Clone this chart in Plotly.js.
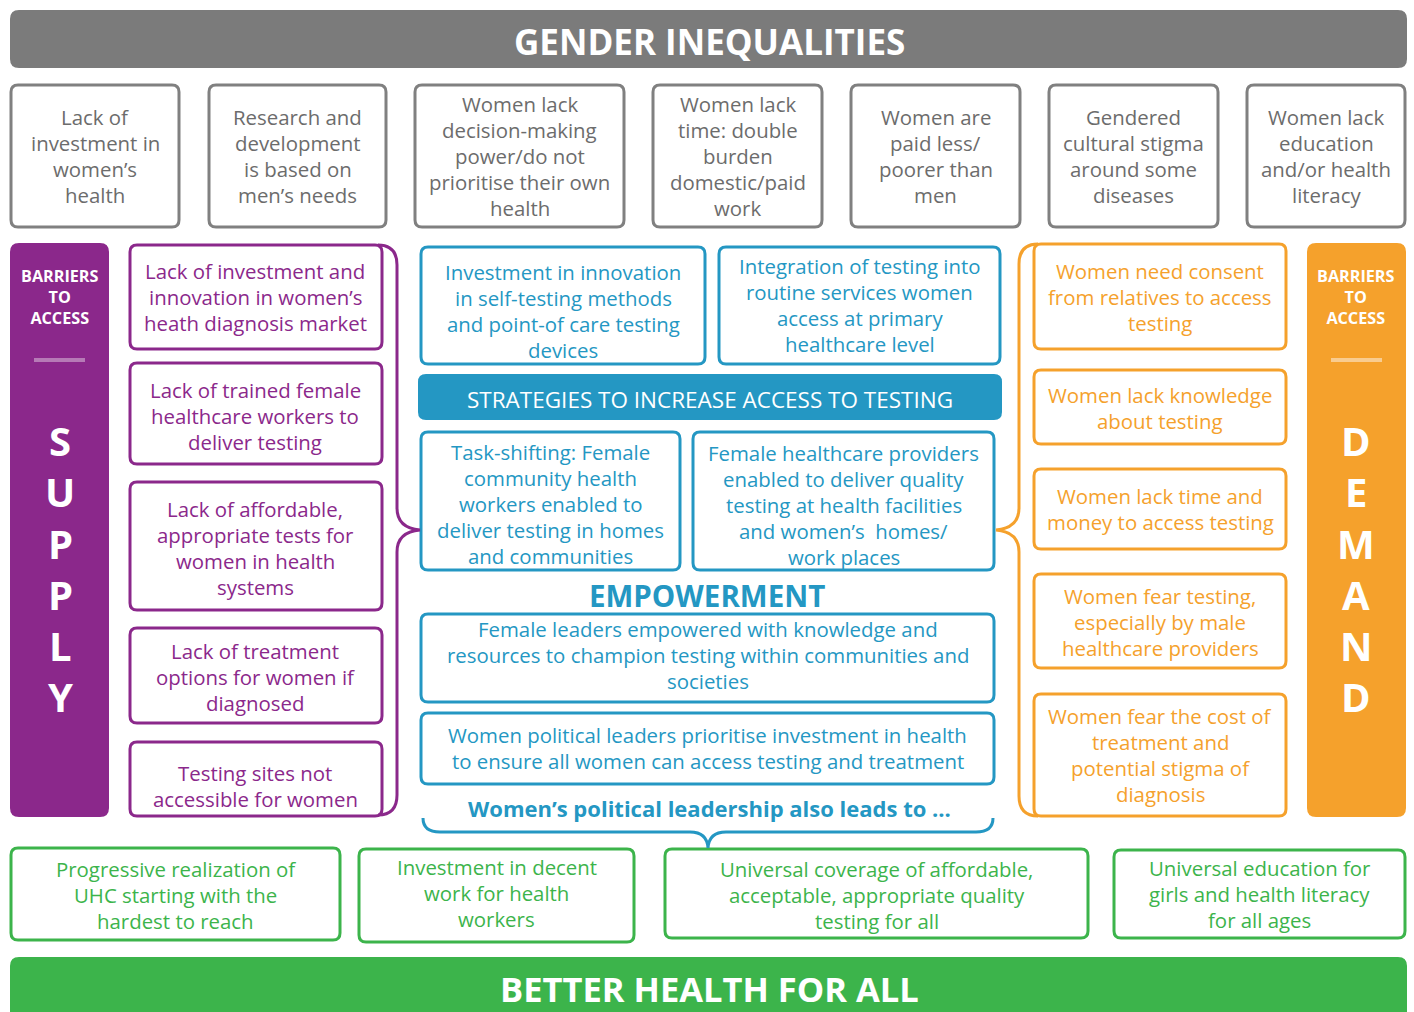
<!DOCTYPE html>
<html><head><meta charset="utf-8">
<script src="https://cdn.plot.ly/plotly-3.0.1.min.js"></script>
<style>html,body{margin:0;padding:0;background:#fff;overflow:hidden}</style>
</head><body><div id="chart" style="width:1414px;height:1012px"></div>
<script>
// ---------- content ----------
const topTitle = "GENDER INEQUALITIES";
const bottomTitle = "BETTER HEALTH FOR ALL";
const genderInequalities = [
  "Lack of<br>investment in<br>women’s<br>health",
  "Research and<br>development<br>is based on<br>men’s needs",
  "Women lack<br>decision-making<br>power/do not<br>prioritise their own<br>health",
  "Women lack<br>time: double<br>burden<br>domestic/paid<br>work",
  "Women are<br>paid less/<br>poorer than<br>men",
  "Gendered<br>cultural stigma<br>around some<br>diseases",
  "Women lack<br>education<br>and/or health<br>literacy"
];
const sideLabel = "BARRIERS<br>TO<br>ACCESS";
const supplyLetters = ["S","U","P","P","L","Y"];
const demandLetters = ["D","E","M","A","N","D"];
const supplyBarriers = [
  "Lack of investment and<br>innovation in women’s<br>heath diagnosis market",
  "Lack of trained female<br>healthcare workers to<br>deliver testing",
  "Lack of affordable,<br>appropriate tests for<br>women in health<br>systems",
  "Lack of treatment<br>options for women if<br>diagnosed",
  "Testing sites not<br>accessible for women"
];
const demandBarriers = [
  "Women need consent<br>from relatives to access<br>testing",
  "Women lack knowledge<br>about testing",
  "Women lack time and<br>money to access testing",
  "Women fear testing,<br>especially by male<br>healthcare providers",
  "Women fear the cost of<br>treatment and<br>potential stigma of<br>diagnosis"
];
const strategiesTitle = "STRATEGIES TO INCREASE ACCESS TO TESTING";
const strategies = [
  "Investment in innovation<br>in self-testing methods<br>and point-of care testing<br>devices",
  "Integration of testing into<br>routine services women<br>access at primary<br>healthcare level",
  "Task-shifting: Female<br>community health<br>workers enabled to<br>deliver testing in homes<br>and communities",
  "Female healthcare providers<br>enabled to deliver quality<br>testing at health facilities<br>and women’s  homes/<br>work places"
];
const empowermentTitle = "EMPOWERMENT";
const empowerment = [
  "Female leaders empowered with knowledge and<br>resources to champion testing within communities and<br>societies",
  "Women political leaders prioritise investment in health<br>to ensure all women can access testing and treatment"
];
const leadsTo = "Women’s political leadership also leads to ...";
const outcomes = [
  "Progressive realization of<br>UHC starting with the<br>hardest to reach",
  "Investment in decent<br>work for health<br>workers",
  "Universal coverage of affordable,<br>acceptable, appropriate quality<br>testing for all",
  "Universal education for<br>girls and health literacy<br>for all ages"
];

// ---------- layout geometry (pixels) ----------
const topBoxX = [[11,179],[209,386],[415,624],[653,822],[851,1020],[1049,1218],[1247,1405]];
const topBoxY = [85,227];
const supplyBoxX = [130,382];
const supplyBoxY = [[245,349],[363,464],[482,610],[628,723],[742,816]];
const supplyTextY = [297,416,548,677,786];
const demandBoxX = [1034,1286];
const demandBoxY = [[244,349],[370,444],[469,549],[574,668],[694,816]];
const demandTextY = [297,408,509,622,755];
const strategyBoxes = [[421,705,247,364],[719,1000,247,364],[421,680,432,570],[693,994,432,570]];
const strategyTextY = [311,305,504,505];
const empowerBoxes = [[421,994,614,702],[421,994,713,784]];
const empowerTextY = [655,748];
const outcomeBoxes = [[11,340,848,940],[359,634,849,942],[665,1088,849,938],[1114,1405,850,938]];
const outcomeTextY = [895,893,895,894];
const letterY = [440,491,543,594,645,696];
const LS = 26;     // line spacing of body text
const BODY = 20.4; // body font size

// ---------- styles ----------
const C = {gray:'#7b7b7b', grayText:'#6c6c6c', purple:'#8b288b', blue:'#2497c3',
           orange:'#f5a12c', green:'#3cb44b'};
const FONT = '"Open Sans", Lato, sans-serif';

const shapes = [];
const ann = [];

function rr(x0,y0,x1,y1,r){
  return `M${x0+r},${y0} L${x1-r},${y0} Q${x1},${y0} ${x1},${y0+r} L${x1},${y1-r} Q${x1},${y1} ${x1-r},${y1} L${x0+r},${y1} Q${x0},${y1} ${x0},${y1-r} L${x0},${y0+r} Q${x0},${y0} ${x0+r},${y0} Z`;
}
function box(x0,y0,x1,y1,color,filled,r){
  shapes.push({type:'path', path:rr(x0,y0,x1,y1,r||7), xref:'x', yref:'y',
    fillcolor: filled?color:'#ffffff', line:{color:color, width: filled?0:3}, layer:'below'});
}
function txt1(x,y,t,size,color,weight){
  ann.push({x:x,y:y,xref:'x',yref:'y',text:t, showarrow:false,
    xanchor:'center', yanchor:'middle', align:'center',
    font:{family:FONT, size:size, color:color, weight:weight||500}});
}
// multi-line text: each line placed individually so line spacing is controlled
function txt(x,yc,t,size,color,weight,sp){
  const lines = t.split('<br>');
  const s = sp||LS;
  lines.forEach((l,i)=>txt1(x, yc + (i-(lines.length-1)/2)*s, l, size, color, weight));
}
function line(path,color,w){
  shapes.push({type:'path', path:path, xref:'x', yref:'y', line:{color:color,width:w||3}, fillcolor:'rgba(0,0,0,0)'});
}

// Top banner
box(10,10,1407,68,C.gray,true,9);
txt1(709,41,topTitle,35,'#ffffff',700);
topBoxX.forEach((b,i)=>{
  box(b[0],topBoxY[0],b[1],topBoxY[1],'#808080',false,7);
  txt((b[0]+b[1])/2,(topBoxY[0]+topBoxY[1])/2,genderInequalities[i],BODY,C.grayText,500);
});

// Supply column
box(10,243,109,817,C.purple,true,9);
txt1(60,297,sideLabel,16.2,'#ffffff',700);
line('M34,360 L85,360','#b67ab6',4);
supplyLetters.forEach((l,i)=>txt1(60,letterY[i],l,40,'#ffffff',700));
supplyBoxY.forEach((b,i)=>{
  box(supplyBoxX[0],b[0],supplyBoxX[1],b[1],C.purple,false,7);
  txt(255,supplyTextY[i],supplyBarriers[i],BODY,C.purple,500);
});
line('M378,245 Q397,245 397,265 L397,508 Q397,528 420,530 Q397,532 397,552 L397,795 Q397,815 378,815',C.purple,3);

// Demand column
box(1307,243,1406,817,C.orange,true,9);
txt1(1356,297,sideLabel,16.2,'#ffffff',700);
line('M1331,360 L1382,360','#f9cc8f',4);
demandLetters.forEach((l,i)=>txt1(1356,letterY[i],l,40,'#ffffff',700));
demandBoxY.forEach((b,i)=>{
  box(demandBoxX[0],b[0],demandBoxX[1],b[1],C.orange,false,7);
  txt(1160,demandTextY[i],demandBarriers[i],BODY,C.orange,500);
});
line('M1038,244 Q1019,244 1019,264 L1019,508 Q1019,528 996,530 Q1019,532 1019,552 L1019,796 Q1019,816 1038,816',C.orange,3);

// Strategies
strategyBoxes.forEach((b,i)=>{
  box(b[0],b[2],b[1],b[3],C.blue,false,7);
  txt((b[0]+b[1])/2,strategyTextY[i],strategies[i],BODY,C.blue,500);
});
box(418,374,1002,420,C.blue,true,8);
txt1(710,399,strategiesTitle,22.5,'#ffffff',500);
txt1(707,595,empowermentTitle,29.5,C.blue,700);
empowerBoxes.forEach((b,i)=>{
  box(b[0],b[2],b[1],b[3],C.blue,false,7);
  txt((b[0]+b[1])/2,empowerTextY[i],empowerment[i],BODY,C.blue,500);
});
txt1(709,808,leadsTo,22,C.blue,700);
line('M423,818 Q423,832 440,832 L690,832 Q707,832 708,848 Q709,832 726,832 L976,832 Q993,832 993,818',C.blue,3);

// Outcomes
outcomeBoxes.forEach((b,i)=>{
  box(b[0],b[2],b[1],b[3],C.green,false,7);
  txt((b[0]+b[1])/2,outcomeTextY[i],outcomes[i],BODY,C.green,500);
});
box(10,957,1407,1030,C.green,true,9);
txt1(709,988,bottomTitle,34.5,'#ffffff',700);

const layout = {
  width:1414, height:1012, margin:{l:0,r:0,t:0,b:0},
  paper_bgcolor:'#ffffff', plot_bgcolor:'#ffffff',
  xaxis:{range:[0,1414], visible:false, fixedrange:true},
  yaxis:{range:[1012,0], visible:false, fixedrange:true},
  showlegend:false, shapes:shapes, annotations:ann
};
Plotly.newPlot('chart', [{x:[0],y:[0],mode:'markers',marker:{opacity:0},hoverinfo:'skip'}], layout, {displayModeBar:false, staticPlot:true});
</script></body></html>
